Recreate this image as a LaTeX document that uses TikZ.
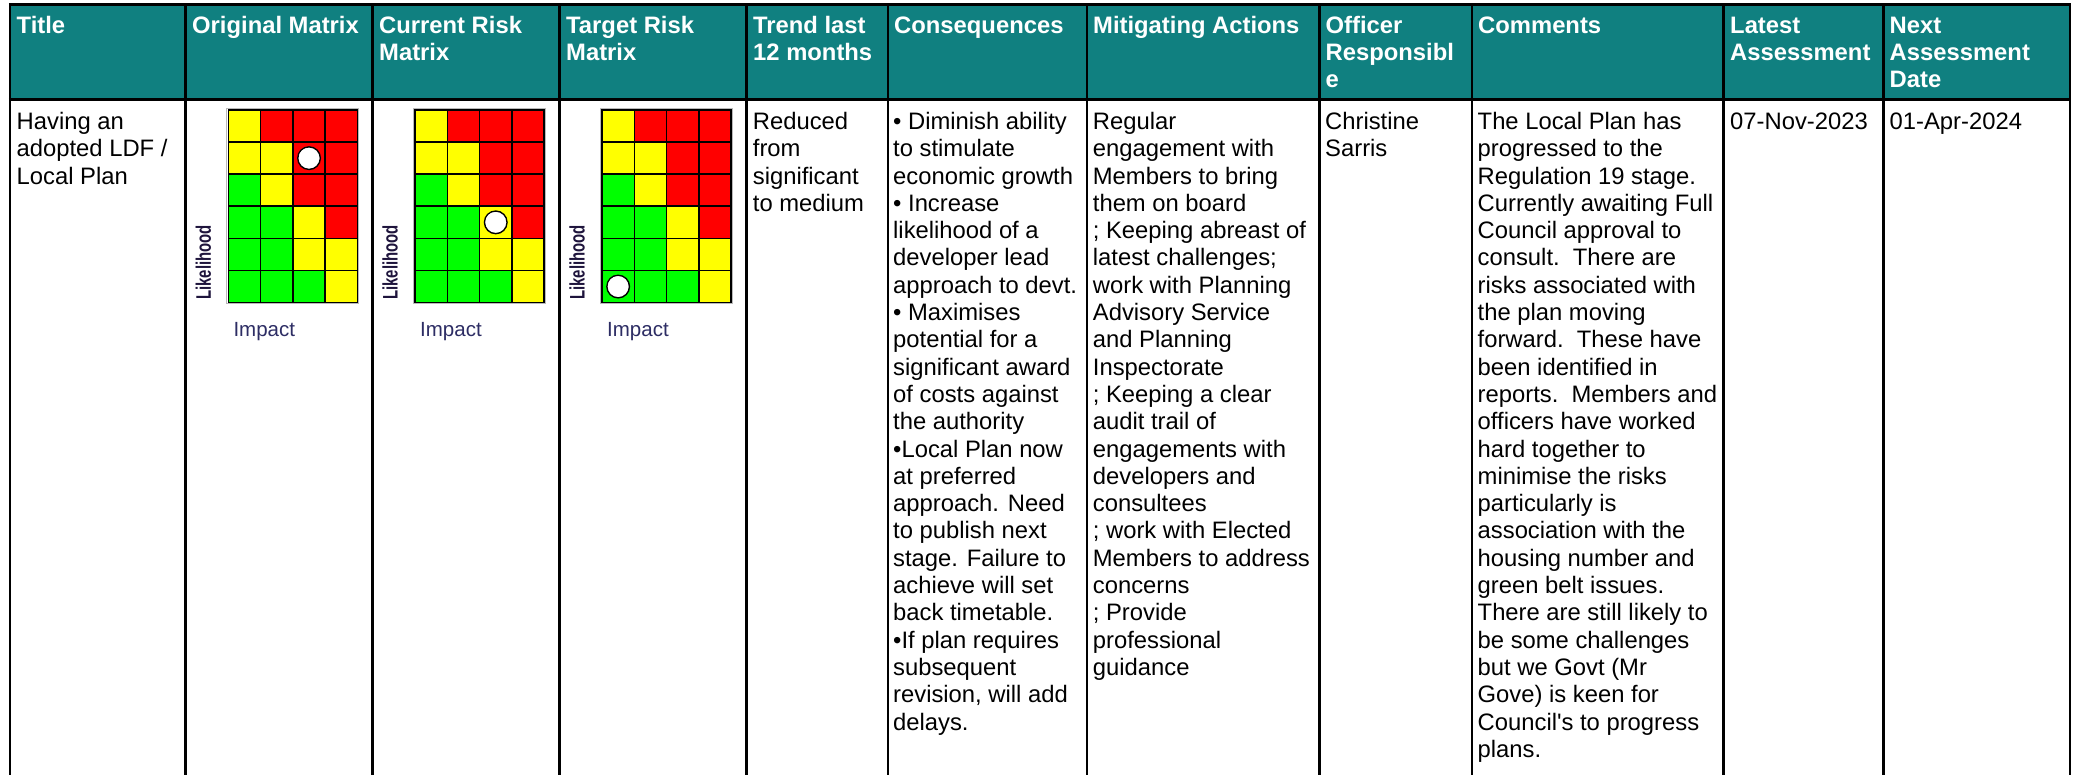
\documentclass[tikz,border=0pt]{standalone}
\usepackage{fontspec}
\usepackage{graphicx}
\setmainfont{Liberation Sans}
\newfontfamily\straightfont{Liberation Sans}[Ligatures=ResetAll]
\definecolor{hdrteal}{RGB}{16,128,128}
\definecolor{mY}{RGB}{255,255,0}
\definecolor{mR}{RGB}{255,0,0}
\definecolor{mG}{RGB}{0,255,0}
\definecolor{impactblue}{RGB}{45,45,100}
\definecolor{likedark}{RGB}{30,20,60}
\tikzset{
  hdr/.style={anchor=base west, inner sep=0pt, text=white, font=\fontsize{23.8}{27.3}\selectfont\bfseries},
  cell/.style={anchor=base west, inner sep=0pt, text=black, font=\fontsize{23.8}{27.3}\selectfont},
  gridline/.style={line width=2.5pt, black},
  cellline/.style={line width=1.6pt, black, line cap=rect},
  impactlbl/.style={anchor=base west, inner sep=0pt, text=impactblue, font=\fontsize{20.5}{20.5}\selectfont},
  likelbl/.style={rotate=90, inner sep=0pt, text=likedark, font=\fontsize{21}{21}\selectfont\bfseries}
}
\newcommand\mylines[1]{\parbox[t]{400pt}{\raggedright #1}}
\newcommand\riskgrid[4]{%
  \begin{scope}[shift={(#2,110)}]
    \foreach \c/\r/\k in {1/1/Y,2/1/R,3/1/R,4/1/R,1/2/Y,2/2/Y,3/2/R,4/2/R,1/3/G,2/3/Y,3/3/R,4/3/R,1/4/G,2/4/G,3/4/Y,4/4/R,1/5/G,2/5/G,3/5/Y,4/5/Y,1/6/G,2/6/G,3/6/G,4/6/Y}
      \fill[m\k] ({(\c-1)*32.3},{(\r-1)*32.1}) rectangle ++(32.3,32.1);
    \draw[gray!55, line width=1pt] (-1.4,-1.4) rectangle (130.6,194.0);
    \foreach \i in {0,...,4} \draw[cellline] ({\i*32.3},0) -- ({\i*32.3},192.6);
    \foreach \j in {0,...,6} \draw[cellline] (0,{\j*32.1}) -- (129.2,{\j*32.1});
    \draw[gray!70, line width=1pt] ({(#3-0.5)*32.3},{(#4-0.5)*32.1}) circle[radius=9.8pt];
    \draw[fill=white, line width=1.4pt] ({(#3-0.5)*32.3},{(#4-0.5)*32.1}) circle[radius=11.3pt];
    \fill[white] ({(#3-0.5)*32.3-1},{(#4-0.5)*32.1-1}) circle[radius=9pt];
    \node[likelbl] (#1like) at (-25,152.5) {\scalebox{0.71}[1]{Likelihood}};
    \node[impactlbl] (#1imp) at (5,227) {Impact};
  \end{scope}}
\begin{document}
\begin{tikzpicture}[x=1pt,y=-1pt]
\useasboundingbox (0,0) rectangle (2074,775);
\fill[white] (0,0) rectangle (2074,775);
% header band
\fill[hdrteal] (10,5) rectangle (2070,99.5);
% matrices
\riskgrid{orig}{228.3}{3}{2}
\riskgrid{curr}{415.0}{3}{4}
\riskgrid{targ}{602.0}{1}{6}
% grid lines
\foreach \x in {10,185.7,372.7,559.7,746.7,888,1087,1319.5,1472,1723.5,1883.3,2070}
  \draw[gridline] (\x,4) -- (\x,775);
\draw[line width=3pt] (8.75,4.6) -- (2071.25,4.6);
\draw[line width=3.2pt] (8.75,99.4) -- (2071.25,99.4);
% header texts
\node[hdr] (hTitle) at (16.5,33.3) {\mylines{Title}};
\node[hdr] (hOrig) at (192,33.3) {\mylines{Original Matrix}};
\node[hdr] (hCurr) at (379,33.3) {\mylines{Current Risk\\Matrix}};
\node[hdr] (hTarg) at (566,33.3) {\mylines{Target Risk\\Matrix}};
\node[hdr] (hTrend) at (753,33.3) {\mylines{Trend last\\12 months}};
\node[hdr] (hCons) at (894,33.3) {\mylines{Consequences}};
\node[hdr] (hMit) at (1093,33.3) {\mylines{Mitigating Actions}};
\node[hdr] (hOff) at (1325.5,33.3) {\mylines{Officer\\Responsibl\\e}};
\node[hdr] (hCom) at (1478,33.3) {\mylines{Comments}};
\node[hdr] (hLat) at (1730,33.3) {\mylines{Latest\\Assessment}};
\node[hdr] (hNext) at (1889.5,33.3) {\mylines{Next\\Assessment\\Date}};
% body texts
\node[cell] (bTitle) at (16.5,129.5) {\mylines{Having an\\adopted LDF /\\Local Plan}};
\node[cell] (bTrend) at (752.7,129.5) {\mylines{Reduced\\from\\significant\\to medium}};
\node[cell] (bCons) at (893,129.5) {\mylines{• Diminish ability\\to stimulate\\economic growth\\• Increase\\likelihood of a\\developer lead\\approach to devt.\\• Maximises\\potential for a\\significant award\\of costs against\\the authority\\•Local Plan now\\at preferred\\approach. Need\\to publish next\\stage. Failure to\\achieve will set\\back timetable.\\•If plan requires\\subsequent\\revision, will add\\delays.}};
\node[cell] (bMit) at (1092.7,129.5) {\mylines{Regular\\engagement with\\Members to bring\\them on board\\; Keeping abreast of\\latest challenges;\\work with Planning\\Advisory Service\\and Planning\\Inspectorate\\; Keeping a clear\\audit trail of\\engagements with\\developers and\\consultees\\; work with Elected\\Members to address\\concerns\\; Provide\\professional\\guidance}};
\node[cell] (bOff) at (1325,129.5) {\mylines{Christine\\Sarris}};
\node[cell] (bCom) at (1477.5,129.5) {\mylines{The Local Plan has\\progressed to the\\Regulation 19 stage.\\Currently awaiting Full\\Council approval to\\consult.\ \ There are\\risks associated with\\the plan moving\\forward.\ \ These have\\been identified in\\reports.\ \ Members and\\officers have worked\\hard together to\\minimise the risks\\particularly is\\association with the\\housing number and\\green belt issues.\\There are still likely to\\be some challenges\\but we Govt (Mr\\Gove) is keen for\\Council{\straightfont'}s to progress\\plans.}};
\node[cell] (bLat) at (1730,129.5) {\mylines{07-Nov-2023}};
\node[cell] (bNext) at (1889.5,129.5) {\mylines{01-Apr-2024}};
\end{tikzpicture}
\end{document}
